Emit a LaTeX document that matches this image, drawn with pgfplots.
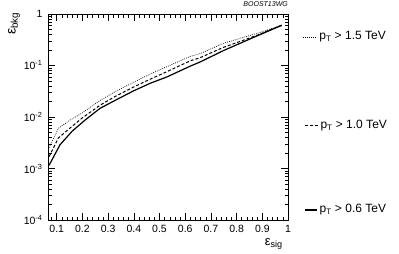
\documentclass[border=0pt]{standalone}
\usepackage{fontspec}
\setmainfont{Liberation Sans}
\usepackage{pgfplots}
\pgfplotsset{compat=1.18}
\begin{document}
\begin{tikzpicture}
\path[use as bounding box] (0,0) rectangle (399pt,254pt);
\begin{axis}[
    at={(48pt,34pt)}, anchor=south west,
    width=240pt, height=206pt, scale only axis,
    xmin=0.066, xmax=1, ymin=1e-4, ymax=1, ymode=log,
    xtick={0.1,0.2,0.3,0.4,0.5,0.6,0.7,0.8,0.9,1},
    xticklabels={0.1,0.2,0.3,0.4,0.5,0.6,0.7,0.8,0.9,1},
    minor xtick={0.08,0.12,0.14,0.16,0.18,0.22,0.24,0.26,0.28,0.32,0.34,0.36,0.38,
      0.42,0.44,0.46,0.48,0.52,0.54,0.56,0.58,0.62,0.64,0.66,0.68,0.72,0.74,0.76,0.78,
      0.82,0.84,0.86,0.88,0.92,0.94,0.96,0.98},
    ytick={1e-4,1e-3,1e-2,1e-1,1},
    yticklabels={10\textsuperscript{-4},10\textsuperscript{-3},10\textsuperscript{-2},10\textsuperscript{-1},1},
    tick label style={font=\fontsize{10.5}{12}\selectfont},
    xticklabel style={yshift=-2pt},
    yticklabel style={xshift=-2pt},
    major tick length=7pt, minor tick length=3.5pt,
    tick style={black, line width=0.5pt},
    axis line style={line width=0.8pt},
    clip=false,
  ]
  % pT > 1.5 TeV
  \addplot[black, line width=0.7pt, dash pattern=on 0.8pt off 1.2pt] coordinates {
      (0.07,2.5e-3) (0.106,6.0e-3) (0.15,8.6e-3) (0.197,0.0118) (0.269,0.021)
      (0.327,0.031) (0.398,0.047) (0.463,0.068) (0.529,0.095) (0.619,0.15)
      (0.658,0.17) (0.749,0.27) (0.879,0.42) (0.975,0.60)
    };
  % pT > 1.0 TeV
  \addplot[black, line width=1pt, dash pattern=on 3pt off 2pt] coordinates {
      (0.07,1.7e-3) (0.106,3.9e-3) (0.15,6.0e-3) (0.197,9.4e-3) (0.269,0.017)
      (0.327,0.025) (0.398,0.038) (0.463,0.054) (0.529,0.076) (0.619,0.123)
      (0.658,0.142) (0.749,0.225) (0.879,0.385) (0.975,0.61)
    };
  % pT > 0.6 TeV
  \addplot[black, line width=1.2pt] coordinates {
      (0.07,1.15e-3) (0.113,2.9e-3) (0.16,5.3e-3) (0.21,8.7e-3) (0.269,0.0148)
      (0.327,0.021) (0.398,0.032) (0.463,0.045) (0.529,0.060) (0.619,0.097)
      (0.658,0.117) (0.749,0.195) (0.879,0.375) (0.975,0.60)
    };
\end{axis}
% legend
\draw[black, line width=0.7pt, dash pattern=on 0.8pt off 1.2pt] (303pt,217pt) -- (317pt,217pt)
  node[right, inner sep=2pt, font=\fontsize{12}{14}\selectfont] {p\textsubscript{T} > 1.5 TeV};
\draw[black, line width=1pt, dash pattern=on 3pt off 2pt] (305pt,128pt) -- (318pt,128pt)
  node[right, inner sep=2pt, font=\fontsize{12}{14}\selectfont] {p\textsubscript{T} > 1.0 TeV};
\draw[black, line width=1.2pt] (305pt,44pt) -- (317pt,44pt)
  node[right, inner sep=2pt, font=\fontsize{12}{14}\selectfont] {p\textsubscript{T} > 0.6 TeV};
% axis titles
\node[rotate=90, anchor=east, inner sep=0pt, font=\fontsize{14}{16}\selectfont] at (14pt,242pt) {ε\textsubscript{bkg}};
\node[anchor=north east, inner sep=0pt, font=\fontsize{13}{15}\selectfont] at (283pt,16pt) {ε\textsubscript{sig}};
\node[anchor=north east, inner sep=0pt, font=\fontsize{7}{8}\selectfont\itshape] at (288pt,253pt) {BOOST13WG};
\end{tikzpicture}
\end{document}
